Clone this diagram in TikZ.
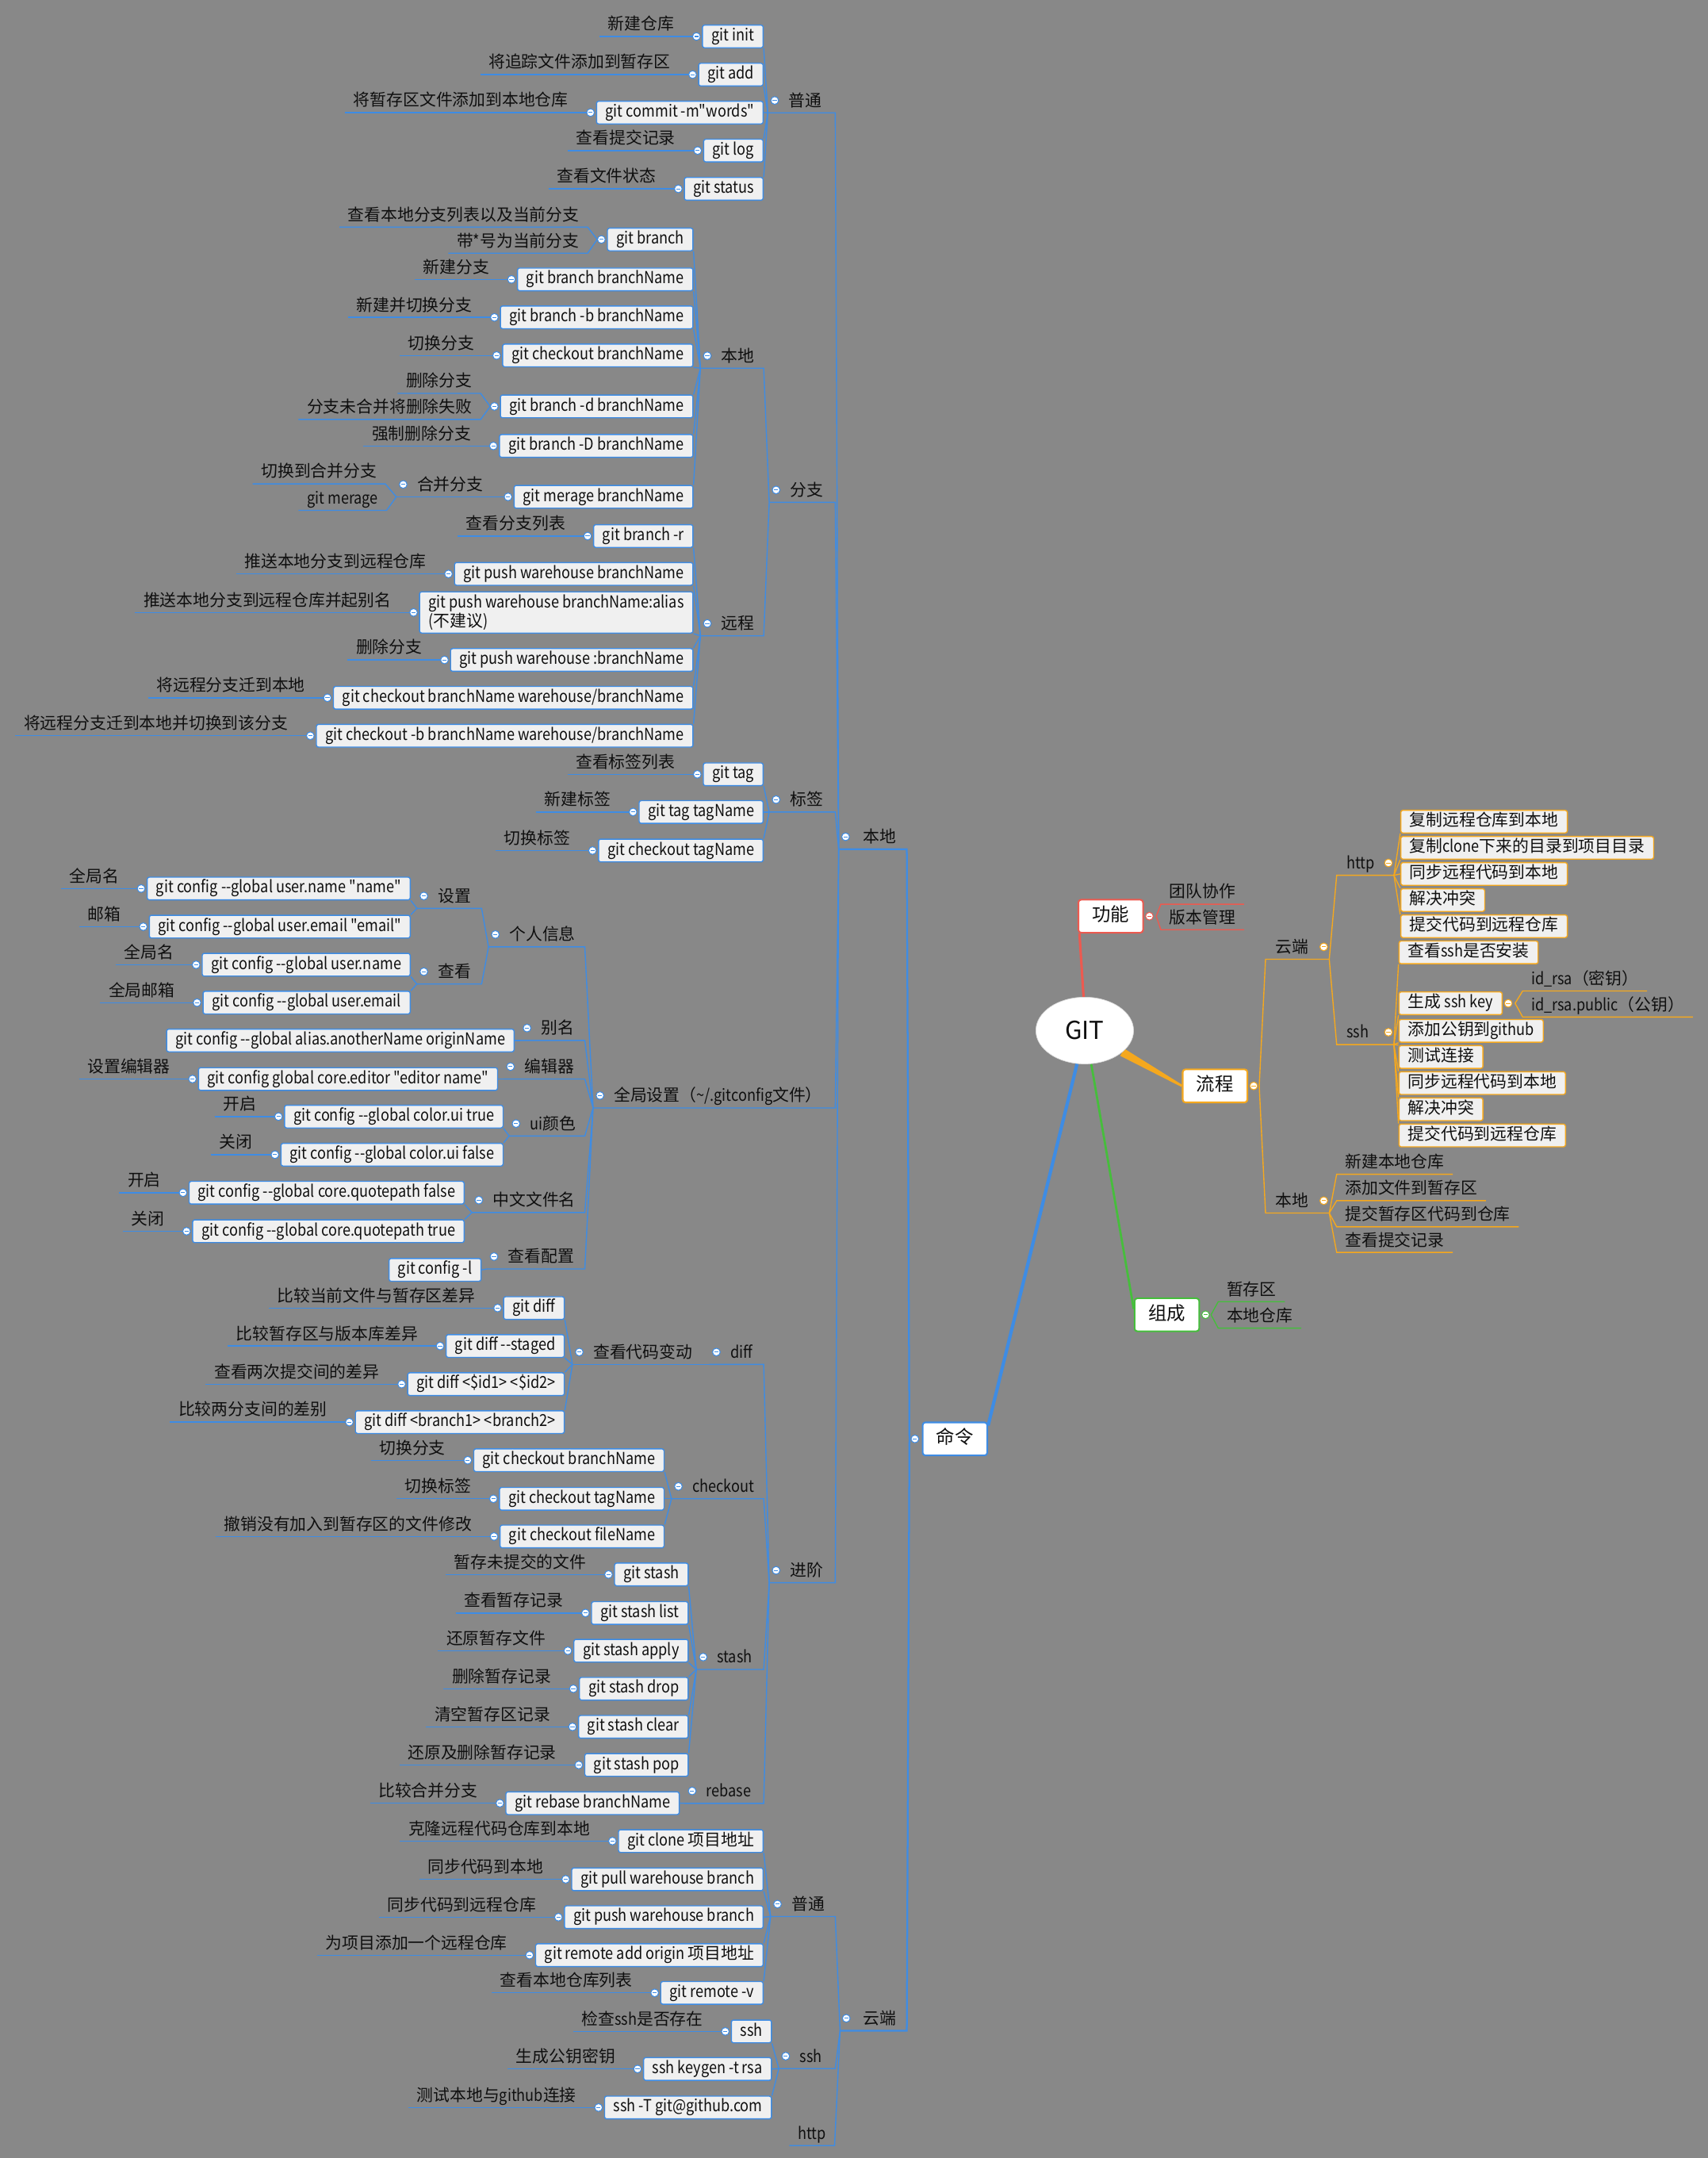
\documentclass[tikz,border=0pt]{standalone}
\usepackage{fontspec}
\newfontfamily\zhf{Noto Sans CJK SC}
\newfontfamily\lat{Noto Sans CJK SC}[FakeStretch=0.87]
\usetikzlibrary{calc,shapes.geometric}
\definecolor{bgc}{RGB}{136,136,136}
\definecolor{lnb}{RGB}{62,140,228}
\definecolor{boxf}{RGB}{240,240,240}
\definecolor{redc}{RGB}{236,90,80}
\definecolor{orc}{RGB}{245,168,30}
\definecolor{grc}{RGB}{70,190,60}
\definecolor{txt}{RGB}{15,15,15}
\pgfdeclarelayer{bgl}
\pgfdeclarelayer{lines}
\pgfsetlayers{bgl,lines,main}
\newcommand\myfs{\fontsize{12pt}{14pt}\selectfont\zhf}
\newcommand\zh[1]{{\zhf #1}}
\newcommand\la[1]{{\lat #1}}
\tikzset{
  bl/.style={draw=lnb, line width=0.8pt},
  ol/.style={draw=orc, line width=0.8pt},
  rdl/.style={draw=redc, line width=0.8pt},
  gnl/.style={draw=grc, line width=0.8pt},
  cbox/.style={draw=lnb, fill=boxf, rounded corners=1.5pt, line width=0.8pt, inner xsep=6.5pt, inner ysep=0pt, minimum height=16.5pt, text height=9pt, text depth=2.5pt, font=\myfs\lat, text=txt},
  cboxtwo/.style={draw=lnb, fill=boxf, rounded corners=1.5pt, line width=0.8pt, inner xsep=6.5pt, inner ysep=2pt, minimum height=30pt, align=left, font=\fontsize{12pt}{13pt}\selectfont\lat, text=txt},
  rbox/.style={cbox, draw=orc, font=\myfs},
  llab/.style={inner xsep=6pt, inner ysep=2pt, text height=9pt, text depth=2.5pt, font=\myfs, text=txt},
  plab/.style={inner xsep=0pt, inner ysep=2pt, text height=9pt, text depth=2.5pt, font=\myfs, text=txt},
  topbox/.style={draw=#1, fill=white, rounded corners=2pt, line width=1.2pt, minimum height=24pt, minimum width=47pt, inner ysep=0pt, inner xsep=5pt, font=\fontsize{13.5pt}{15pt}\selectfont\zhf, text=txt, text height=10pt, text depth=2.5pt},
}
\newcommand\mkKnob[2][lnb]{%
  \coordinate (kk) at (#2);
  \filldraw[draw=#1, fill=white, line width=0.6pt] (kk) circle[radius=2.8pt];
  \draw[#1, line width=0.6pt] ([xshift=-1.5pt]kk) -- ([xshift=1.5pt]kk);}
\newcommand\mkCn[3][bl]{\begin{pgfonlayer}{lines}\draw[#1] #2 -- #3;\end{pgfonlayer}}
\newcommand\mkBox[4]{%
  \node[cbox, anchor=east] (#1) at (#2,#3) {#4};
  \coordinate (#1j) at ($(#1.west)+(-7,0)$);
  \mkKnob{$(#1.west)+(-4,0)$}}
\newcommand\mkLeaf[4][0]{%
  \node[llab, anchor=south east] (#2) at ($(#3.west)+(-14,#1)$) {#4};
  \begin{pgfonlayer}{lines}\draw[bl] (#2.south west) -- (#2.south east) -- (#3j);\end{pgfonlayer}}
\newcommand\mkPL[6]{%
  \node[plab, anchor=south west] (#1) at (#2+15,#3) {#4};
  \coordinate (#1j) at (#2,#3);
  \begin{pgfonlayer}{lines}\draw[bl] (#1j) -- (#5,#3) -- (#6);\end{pgfonlayer}
  \mkKnob{#2+5,#3-9}}
\newcommand\mkPR[6]{%
  \node[plab, anchor=south west] (#1) at (#2+7,#3) {#4};
  \coordinate (#1j) at (#5,#3);
  \begin{pgfonlayer}{lines}\draw[ol] (#6) -- (#2,#3) -- (#1j);\end{pgfonlayer}
  \mkKnob[orc]{#5-4,#3-9}}
\newcommand\mkRB[4]{\node[rbox, anchor=west] (#1) at (#2,#3) {#4};}
\newcommand\mkRL[6][ol]{%
  \node[llab, anchor=south west] (#2) at (#3,#4) {#5};
  \begin{pgfonlayer}{lines}\draw[#1] (#6) -- (#2.south west) -- (#2.south east);\end{pgfonlayer}}

\begin{document}
\begin{tikzpicture}[x=1pt,y=-1pt]
\begin{pgfonlayer}{bgl}
\fill[bgc] (0,0) rectangle (1241,1568);
\end{pgfonlayer}
\useasboundingbox (0,0) rectangle (1241,1568);

% ---------- centre ----------
\node[ellipse, fill=white, draw=black!15, minimum width=71pt, minimum height=48.5pt, inner sep=0pt, font=\fontsize{18pt}{20pt}\selectfont\zhf, text=txt] (git) at (788.3,748.8) {GIT};
\node[topbox=lnb] (cmd) at (694,1045.5) {命令};
\node[topbox=redc] (gn) at (807.2,665.7) {功能};
\node[topbox=orc] (lc) at (883,789) {流程};
\node[topbox=grc] (zc) at (848,955.3) {组成};
\begin{pgfonlayer}{lines}
\draw[lnb, line width=2.4pt] (git.-103) -- (cmd.22);
\draw[redc, line width=1.8pt] (git.92) -- (gn.-151);
\draw[grc, line width=1.6pt] (git.-79) -- (zc.170);
\fill[orc] ($(git.-30)!3pt!90:(lc.west)$) -- ($(lc.west)!0.8pt!-90:(git.-30)$) -- ($(lc.west)!0.8pt!90:(git.-30)$) -- ($(git.-30)!3pt!-90:(lc.west)$) -- cycle;
\end{pgfonlayer}
\mkKnob{$(cmd.west)+(-5,0)$}
\coordinate (cmdj) at ($(cmd.west)+(-9,0)$);
\mkKnob[redc]{$(gn.east)+(4,0)$}
\coordinate (gnj) at ($(gn.east)+(9,0)$);
\mkKnob[orc]{$(lc.east)+(4,0)$}
\coordinate (lcj) at ($(lc.east)+(8,0)$);
\mkKnob[grc]{$(zc.east)+(4,0)$}
\coordinate (zcj) at ($(zc.east)+(8,0)$);

% ---------- 功能 / 组成 ----------
\mkRL[rdl]{gl1}{843.6}{657}{团队协作}{gnj}
\mkRL[rdl]{gl2}{843.6}{675.5}{版本管理}{gnj}
\mkRL[gnl]{zl1}{885.3}{945.8}{暂存区}{zcj}
\mkRL[gnl]{zl2}{885.3}{965}{本地仓库}{zcj}

% ---------- 流程 ----------
\mkPR{yr}{919.7}{697}{云端}{966}{lcj}
\mkPR{brl}{919.7}{881.4}{本地}{966}{lcj}
\mkPR{ht}{971.4}{636}{\la{http}}{1013}{yrj}
\mkPR{sr}{971.4}{759}{\la{ssh}}{1013}{yrj}
\mkRB{h1}{1017.6}{597}{复制远程仓库到本地}
\mkRB{h2}{1017.6}{616}{复制\la{clone}下来的目录到项目目录}
\mkRB{h3}{1017.6}{635}{同步远程代码到本地}
\mkRB{h4}{1017.6}{654}{解决冲突}
\mkRB{h5}{1017.6}{673}{提交代码到远程仓库}
\mkCn[ol]{(htj)}{(h1.south west)}
\mkCn[ol]{(htj)}{(h2.south west)}
\mkCn[ol]{(htj)}{(h3.west)}
\mkCn[ol]{(htj)}{(h4.north west)}
\mkCn[ol]{(htj)}{(h5.north west)}
\mkRB{s1}{1016.3}{692}{查看\la{ssh}是否安装}
\mkRB{s2}{1016.3}{729}{生成 \la{ssh key}}
\mkRB{s3}{1016.3}{749}{添加公钥到\la{github}}
\mkRB{s4}{1016.3}{768}{测试连接}
\mkRB{s5}{1016.3}{787}{同步远程代码到本地}
\mkRB{s6}{1016.3}{806}{解决冲突}
\mkRB{s7}{1016.3}{825}{提交代码到远程仓库}
\mkCn[ol]{(srj)}{(s1.south west)}
\mkCn[ol]{(srj)}{(s2.south west)}
\mkCn[ol]{(srj)}{(s3.south west)}
\mkCn[ol]{(srj)}{(s4.north west)}
\mkCn[ol]{(srj)}{(s5.north west)}
\mkCn[ol]{(srj)}{(s6.north west)}
\mkCn[ol]{(srj)}{(s7.north west)}
\mkKnob[orc]{$(s2.east)+(4,0)$}
\coordinate (s2j) at ($(s2.east)+(9,0)$);
\mkRL{k1}{1106.6}{720}{\la{id\_rsa}（密钥）}{s2j}
\mkRL{k2}{1106.6}{739}{\la{id\_rsa.public}（公钥）}{s2j}
\mkRL{r1}{971.4}{853.2}{新建本地仓库}{brlj}
\mkRL{r2}{971.4}{872.4}{添加文件到暂存区}{brlj}
\mkRL{r3}{971.4}{891.4}{提交暂存区代码到仓库}{brlj}
\mkRL{r4}{971.4}{910}{查看提交记录}{brlj}

% ---------- 命令 ----------
\node[plab, anchor=south west] (bd) at (627,617) {本地};
\coordinate (bdj) at (609.5,617);
\node[plab, anchor=south west] (yd) at (627,1475.5) {云端};
\coordinate (ydj) at (610.5,1475.5);
\begin{pgfonlayer}{lines}
\draw[lnb, line width=1.3pt] (bdj) -- (659,617) -- (cmdj);
\draw[lnb, line width=1.3pt] (ydj) -- (659,1475.5) -- (cmdj);
\end{pgfonlayer}
\mkKnob{614.5,608}
\mkKnob{615,1466.5}

\mkPL{pta}{558}{82}{普通}{607}{bdj}
\mkPL{fz}{559}{365}{分支}{607}{bdj}
\mkPL{bq}{559}{590}{标签}{607}{bdj}
\mkPL{qj}{431}{805}{全局设置（\la{\textasciitilde/.gitconfig}文件）}{607}{bdj}
\mkPL{jj}{559}{1150}{进阶}{607}{bdj}

% 普通
\mkBox{binit}{555}{26.5}{git init}\mkLeaf{linit}{binit}{新建仓库}
\mkBox{badd}{555}{54.2}{git add}\mkLeaf{ladd}{badd}{将追踪文件添加到暂存区}
\mkBox{bcom}{555}{81.8}{git commit -m"words"}\mkLeaf{lcom}{bcom}{将暂存区文件添加到本地仓库}
\mkBox{blog}{555}{109.4}{git log}\mkLeaf{llog}{blog}{查看提交记录}
\mkBox{bsta}{555}{137.2}{git status}\mkLeaf{lsta}{bsta}{查看文件状态}
\mkCn{(binit.south east)}{(ptaj)}
\mkCn{(badd.south east)}{(ptaj)}
\mkCn{(bcom.east)}{(ptaj)}
\mkCn{(blog.north east)}{(ptaj)}
\mkCn{(bsta.north east)}{(ptaj)}

% 分支
\mkPL{bdb}{509}{267.5}{本地}{555}{fzj}
\mkPL{yc}{509}{462}{远程}{555}{fzj}
\mkBox{bbr}{504}{174}{git branch}
\mkLeaf[-9]{lbra}{bbr}{查看本地分支列表以及当前分支}
\mkLeaf[10]{lbrb}{bbr}{带\la{*}号为当前分支}
\mkBox{bbrn}{504}{203}{git branch branchName}\mkLeaf{lbrn}{bbrn}{新建分支}
\mkBox{bbrbb}{504}{230.6}{git branch -b branchName}\mkLeaf{lbrbb}{bbrbb}{新建并切换分支}
\mkBox{bcob}{504}{258.3}{git checkout branchName}\mkLeaf{lcob}{bcob}{切换分支}
\mkBox{bbrd}{504}{295.3}{git branch -d branchName}
\mkLeaf[-9.5]{lbrda}{bbrd}{删除分支}
\mkLeaf[9.5]{lbrdb}{bbrd}{分支未合并将删除失败}
\mkBox{bbrD}{504}{324}{git branch -D branchName}\mkLeaf{lbrD}{bbrD}{强制删除分支}
\mkBox{bmg}{504}{361}{git merage branchName}
\mkPL{hb}{288}{361}{合并分支}{300}{bmgj}
\node[llab, anchor=south east] (lhba) at (280,351.6) {切换到合并分支};
\node[llab, anchor=south east] (lhbb) at (281,370.8) {\la{git merage}};
\begin{pgfonlayer}{lines}
\draw[bl] (lhba.south west) -- (lhba.south east) -- (hbj);
\draw[bl] (lhbb.south west) -- (lhbb.south east) -- (hbj);
\end{pgfonlayer}
\mkCn{(bbr.south east)}{(bdbj)}
\mkCn{(bbrn.south east)}{(bdbj)}
\mkCn{(bbrbb.south east)}{(bdbj)}
\mkCn{(bcob.south east)}{(bdbj)}
\mkCn{(bbrd.north east)}{(bdbj)}
\mkCn{(bbrD.north east)}{(bdbj)}
\mkCn{(bmg.north east)}{(bdbj)}

\mkBox{bgr}{504}{389.5}{git branch -r}\mkLeaf{lgr}{bgr}{查看分支列表}
\mkBox{bpwb}{504}{417}{git push warehouse branchName}\mkLeaf{lpwb}{bpwb}{推送本地分支到远程仓库}
\node[cboxtwo, anchor=east] (bpwa) at (504,445) {git push warehouse branchName:alias\\(\zh{不建议})};
\coordinate (bpwaj) at ($(bpwa.west)+(-7,0)$);
\mkKnob{$(bpwa.west)+(-4,0)$}
\mkLeaf{lpwa}{bpwa}{推送本地分支到远程仓库并起别名}
\mkBox{bpwd}{504}{479.5}{git push warehouse :branchName}\mkLeaf{lpwd}{bpwd}{删除分支}
\mkBox{bcow}{504}{507}{git checkout branchName warehouse/branchName}\mkLeaf{lcow}{bcow}{将远程分支迁到本地}
\mkBox{bcobw}{504}{534.6}{git checkout -b branchName warehouse/branchName}\mkLeaf{lcobw}{bcobw}{将远程分支迁到本地并切换到该分支}
\mkCn{(bgr.south east)}{(ycj)}
\mkCn{(bpwb.south east)}{(ycj)}
\mkCn{(bpwa.south east)}{(ycj)}
\mkCn{(bpwd.north east)}{(ycj)}
\mkCn{(bcow.north east)}{(ycj)}
\mkCn{(bcobw.north east)}{(ycj)}

% 标签
\mkBox{btag}{555}{562.6}{git tag}\mkLeaf{ltag}{btag}{查看标签列表}
\mkBox{btagn}{555}{590}{git tag tagName}\mkLeaf{ltagn}{btagn}{新建标签}
\mkBox{bcot}{555}{618}{git checkout tagName}\mkLeaf{lcot}{bcot}{切换标签}
\mkCn{(btag.south east)}{(bqj)}
\mkCn{(btagn.east)}{(bqj)}
\mkCn{(bcot.north east)}{(bqj)}

% 全局设置
\mkPL{gr}{355}{688}{个人信息}{425}{qjj}
\mkPL{sz}{303}{660}{设置}{350}{grj}
\mkPL{ck}{303}{715}{查看}{350}{grj}
\mkBox{bun}{298.5}{645.6}{git config --global user.name "name"}\mkLeaf{lun}{bun}{全局名}
\mkBox{bue}{298.5}{673.3}{git config --global user.email "email"}\mkLeaf{lue}{bue}{邮箱}
\mkCn{(bun.south east)}{(szj)}
\mkCn{(bue.north east)}{(szj)}
\mkBox{bvn}{298.5}{701}{git config --global user.name}\mkLeaf{lvn}{bvn}{全局名}
\mkBox{bve}{298.5}{728.5}{git config --global user.email}\mkLeaf{lve}{bve}{全局邮箱}
\mkCn{(bvn.south east)}{(ckj)}
\mkCn{(bve.north east)}{(ckj)}
\mkPL{bm}{378}{756}{别名}{425}{qjj}
\node[cbox, anchor=east] (bal) at (374,756) {git config --global alias.anotherName originName};
\mkCn{(bal.east)}{(bmj)}
\mkPL{bj}{366}{784}{编辑器}{425}{qjj}
\mkBox{bed}{362}{784}{git config global core.editor "editor name"}\mkLeaf{led}{bed}{设置编辑器}
\mkCn{(bed.east)}{(bjj)}
\mkPL{ui}{370}{825.4}{\la{ui}颜色}{425}{qjj}
\mkBox{buit}{366}{811.3}{git config --global color.ui true}\mkLeaf{luit}{buit}{开启}
\mkBox{buif}{366}{839}{git config --global color.ui false}\mkLeaf{luif}{buif}{关闭}
\mkCn{(buit.south east)}{(uij)}
\mkCn{(buif.north east)}{(uij)}
\mkPL{zw}{343}{881}{中文文件名}{425}{qjj}
\mkBox{bqf}{337.7}{866.6}{git config --global core.quotepath false}\mkLeaf{lqf}{bqf}{开启}
\mkBox{bqt}{337.7}{894.6}{git config --global core.quotepath true}\mkLeaf{lqt}{bqt}{关闭}
\mkCn{(bqf.south east)}{(zwj)}
\mkCn{(bqt.north east)}{(zwj)}
\mkPL{ckp}{354}{922}{查看配置}{425}{qjj}
\node[cbox, anchor=east] (bcl) at (350,922.7) {git config -l};
\mkCn{(bcl.east)}{(ckpj)}

% 进阶
\mkPL{df}{515.6}{991.4}{\la{diff}}{555}{jjj}
\mkPL{dm}{416}{991.4}{查看代码变动}{505}{dfj}
\mkBox{bda}{410.5}{950.4}{git diff}\mkLeaf{lda}{bda}{比较当前文件与暂存区差异}
\mkBox{bdb}{410.5}{978}{git diff --staged}\mkLeaf{ldb}{bdb}{比较暂存区与版本库差异}
\mkBox{bdc}{410.5}{1005.7}{git diff <\$id1> <\$id2>}\mkLeaf{ldc}{bdc}{查看两次提交间的差异}
\mkBox{bdd}{410.5}{1033.3}{git diff <branch1> <branch2>}\mkLeaf{ldd}{bdd}{比较两分支间的差别}
\mkCn{(bda.south east)}{(dmj)}
\mkCn{(bdb.south east)}{(dmj)}
\mkCn{(bdc.north east)}{(dmj)}
\mkCn{(bdd.north east)}{(dmj)}
\mkPL{co}{488}{1089}{\la{checkout}}{555}{jjj}
\mkBox{bca}{483}{1061}{git checkout branchName}\mkLeaf{lca}{bca}{切换分支}
\mkBox{bcb}{483}{1089}{git checkout tagName}\mkLeaf{lcb}{bcb}{切换标签}
\mkBox{bcc}{483}{1116.4}{git checkout fileName}\mkLeaf{lcc}{bcc}{撤销没有加入到暂存区的文件修改}
\mkCn{(bca.south east)}{(coj)}
\mkCn{(bcb.east)}{(coj)}
\mkCn{(bcc.north east)}{(coj)}
\mkPL{st}{506}{1213}{\la{stash}}{555}{jjj}
\mkBox{bsa}{500.5}{1144}{git stash}\mkLeaf{lsa}{bsa}{暂存未提交的文件}
\mkBox{bsb}{500.5}{1172}{git stash list}\mkLeaf{lsb}{bsb}{查看暂存记录}
\mkBox{bsc}{500.5}{1199.4}{git stash apply}\mkLeaf{lsc}{bsc}{还原暂存文件}
\mkBox{bsd}{500.5}{1227}{git stash drop}\mkLeaf{lsd}{bsd}{删除暂存记录}
\mkBox{bse}{500.5}{1254.7}{git stash clear}\mkLeaf{lse}{bse}{清空暂存区记录}
\mkBox{bsf}{500.5}{1282.4}{git stash pop}\mkLeaf{lsf}{bsf}{还原及删除暂存记录}
\mkCn{(bsa.south east)}{(stj)}
\mkCn{(bsb.south east)}{(stj)}
\mkCn{(bsc.south east)}{(stj)}
\mkCn{(bsd.north east)}{(stj)}
\mkCn{(bse.north east)}{(stj)}
\mkCn{(bsf.north east)}{(stj)}
\mkPL{rb}{498}{1310.3}{\la{rebase}}{555}{jjj}
\mkBox{brb}{494}{1310.2}{git rebase branchName}\mkLeaf{lrb}{brb}{比较合并分支}
\mkCn{(brb.east)}{(rbj)}

% 云端
\mkPL{ptb}{560}{1392.5}{普通}{607}{ydj}
\mkBox{bcla}{555}{1337.7}{git clone \zh{项目地址}}\mkLeaf{lcla}{bcla}{克隆远程代码仓库到本地}
\mkBox{bpl}{555}{1365.5}{git pull warehouse branch}\mkLeaf{lpl}{bpl}{同步代码到本地}
\mkBox{bps}{555}{1393}{git push warehouse branch}\mkLeaf{lps}{bps}{同步代码到远程仓库}
\mkBox{bra}{555}{1420.6}{git remote add origin \zh{项目地址}}\mkLeaf{lra}{bra}{为项目添加一个远程仓库}
\mkBox{brv}{555}{1448}{git remote -v}\mkLeaf{lrv}{brv}{查看本地仓库列表}
\mkCn{(bcla.south east)}{(ptbj)}
\mkCn{(bpl.south east)}{(ptbj)}
\mkCn{(bps.east)}{(ptbj)}
\mkCn{(bra.north east)}{(ptbj)}
\mkCn{(brv.north east)}{(ptbj)}
\mkPL{sl}{566}{1503}{\la{ssh}}{607}{ydj}
\mkBox{bss}{561}{1476}{ssh}\mkLeaf{lss}{bss}{检查\la{ssh}是否存在}
\mkBox{bkg}{561}{1503.3}{ssh keygen -t rsa}\mkLeaf{lkg}{bkg}{生成公钥密钥}
\mkBox{bsT}{561}{1531.3}{ssh -T git@github.com}\mkLeaf{lsT}{bsT}{测试本地与\la{github}连接}
\mkCn{(bss.south east)}{(slj)}
\mkCn{(bkg.east)}{(slj)}
\mkCn{(bsT.north east)}{(slj)}
\node[llab, anchor=south east] (hl) at (606.5,1559) {\la{http}};
\begin{pgfonlayer}{lines}
\draw[bl] (hl.south west) -- (hl.south east) -- (ydj);
\end{pgfonlayer}
\end{tikzpicture}
\end{document}
